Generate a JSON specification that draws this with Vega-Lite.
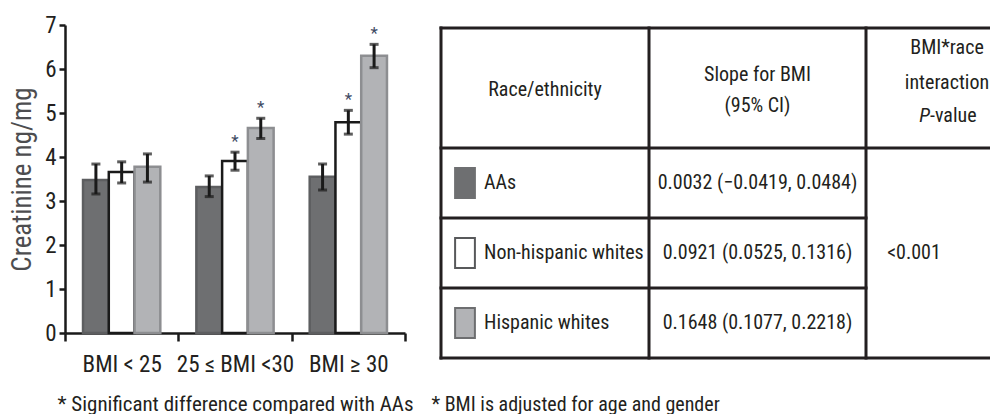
{
  "$schema": "https://vega.github.io/schema/vega-lite/v6.json",
  "background": "white",
  "padding": {"left": 8, "top": 14, "right": 0, "bottom": 0},
  "config": {
    "view": {"stroke": null},
    "font": "Roboto Condensed, Liberation Sans Narrow, Arial Narrow, sans-serif",
    "text": {"font": "Roboto Condensed, Liberation Sans Narrow, Arial Narrow, sans-serif"}
  },
  "datasets": {
    "creatinine": [
      {"bmi": "BMI < 25", "race": "AAs", "mean": 3.48, "lo": 3.16, "hi": 3.84, "sig": ""},
      {"bmi": "BMI < 25", "race": "Non-hispanic whites", "mean": 3.66, "lo": 3.41, "hi": 3.89, "sig": ""},
      {"bmi": "BMI < 25", "race": "Hispanic whites", "mean": 3.78, "lo": 3.43, "hi": 4.07, "sig": ""},
      {"bmi": "25 ≤ BMI <30", "race": "AAs", "mean": 3.32, "lo": 3.1, "hi": 3.57, "sig": ""},
      {"bmi": "25 ≤ BMI <30", "race": "Non-hispanic whites", "mean": 3.91, "lo": 3.7, "hi": 4.11, "sig": "*"},
      {"bmi": "25 ≤ BMI <30", "race": "Hispanic whites", "mean": 4.66, "lo": 4.42, "hi": 4.88, "sig": "*"},
      {"bmi": "BMI ≥ 30", "race": "AAs", "mean": 3.55, "lo": 3.25, "hi": 3.84, "sig": ""},
      {"bmi": "BMI ≥ 30", "race": "Non-hispanic whites", "mean": 4.79, "lo": 4.52, "hi": 5.06, "sig": "*"},
      {"bmi": "BMI ≥ 30", "race": "Hispanic whites", "mean": 6.3, "lo": 6.03, "hi": 6.56, "sig": "*"}
    ],
    "grid": [
      {"x1": 0, "x2": 3, "y1": 0, "y2": 0},
      {"x1": 0, "x2": 3, "y1": 1, "y2": 1},
      {"x1": 0, "x2": 2, "y1": 2, "y2": 2},
      {"x1": 0, "x2": 2, "y1": 3, "y2": 3},
      {"x1": 0, "x2": 3, "y1": 4, "y2": 4},
      {"x1": 0, "x2": 0, "y1": 0, "y2": 4},
      {"x1": 1, "x2": 1, "y1": 0, "y2": 4},
      {"x1": 2, "x2": 2, "y1": 0, "y2": 4},
      {"x1": 3, "x2": 3, "y1": 0, "y2": 4}
    ],
    "rows": [
      {"row": 1.5, "race": "AAs", "slope": "0.0032 (−0.0419, 0.0484)"},
      {"row": 2.5, "race": "Non-hispanic whites", "slope": "0.0921 (0.0525, 0.1316)"},
      {"row": 3.5, "race": "Hispanic whites", "slope": "0.1648 (0.1077, 0.2218)"}
    ]
  },
  "spacing": 17,
  "resolve": {"scale": {"fill": "independent", "stroke": "independent"}},
  "hconcat": [
    {
      "width": 340,
      "height": 308,
      "data": {"name": "creatinine"},
      "encoding": {
        "x": {
          "field": "bmi",
          "type": "nominal",
          "sort": ["BMI < 25", "25 ≤ BMI <30", "BMI ≥ 30"],
          "scale": {"paddingInner": 0, "paddingOuter": 0},
          "axis": {
            "title": "* Significant difference compared with AAs",
            "titleFontSize": 21,
            "titleFontWeight": "normal",
            "titleColor": "#231f20",
            "titlePadding": 17,
            "labelAngle": 0,
            "labelFontSize": 23,
            "labelColor": "#231f20",
            "labelPadding": 12,
            "tickBand": "extent",
            "tickSize": 8,
            "tickWidth": 2.5,
            "tickColor": "#1a1a1a",
            "domainColor": "#1a1a1a",
            "domainWidth": 2.5
          }
        },
        "xOffset": {
          "field": "race",
          "type": "nominal",
          "sort": ["AAs", "Non-hispanic whites", "Hispanic whites"],
          "scale": {"paddingInner": 0, "paddingOuter": 0.7}
        }
      },
      "layer": [
        {
          "mark": {"type": "bar", "strokeWidth": 2.5},
          "encoding": {
            "y": {
              "field": "mean",
              "type": "quantitative",
              "scale": {"domain": [0, 7], "nice": false},
              "axis": {
                "title": "Creatinine ng/mg",
                "titleFontSize": 27,
                "titleFontWeight": "normal",
                "titleColor": "#4d4d4f",
                "titlePadding": 8,
                "values": [0, 1, 2, 3, 4, 5, 6, 7],
                "grid": false,
                "labelFontSize": 23,
                "labelColor": "#231f20",
                "labelPadding": 3,
                "tickSize": 6,
                "tickWidth": 2.5,
                "tickColor": "#1a1a1a",
                "domainColor": "#1a1a1a",
                "domainWidth": 2.5
              }
            },
            "fill": {
              "field": "race",
              "type": "nominal",
              "scale": {"domain": ["AAs", "Non-hispanic whites", "Hispanic whites"], "range": ["#6e6f71", "#ffffff", "#b2b3b6"]},
              "legend": null
            },
            "stroke": {
              "field": "race",
              "type": "nominal",
              "scale": {"domain": ["AAs", "Non-hispanic whites", "Hispanic whites"], "range": ["#5d5e60", "#1a1a1a", "#8d8e91"]},
              "legend": null
            }
          }
        },
        {
          "mark": {"type": "rule", "strokeWidth": 3, "color": "#1a1a1a"},
          "encoding": {
            "y": {"field": "lo", "type": "quantitative"},
            "y2": {"field": "hi"}
          }
        },
        {
          "mark": {"type": "tick", "orient": "horizontal", "thickness": 3, "size": 9, "color": "#1a1a1a"},
          "encoding": {"y": {"field": "lo", "type": "quantitative"}}
        },
        {
          "mark": {"type": "tick", "orient": "horizontal", "thickness": 3, "size": 9, "color": "#1a1a1a"},
          "encoding": {"y": {"field": "hi", "type": "quantitative"}}
        },
        {
          "mark": {"type": "text", "fontSize": 17, "color": "#3e4a63", "baseline": "bottom", "dy": -1},
          "encoding": {
            "y": {"field": "hi", "type": "quantitative"},
            "text": {"field": "sig"}
          }
        }
      ]
    },
    {
      "width": 587,
      "height": 333,
      "layer": [
        {
          "data": {"name": "grid"},
          "mark": {"type": "rule", "strokeWidth": 3, "color": "#231f20", "strokeCap": "square"},
          "encoding": {
            "x": {
              "field": "x1",
              "type": "quantitative",
              "scale": {"domain": [0, 1, 2, 3], "range": [0, 208, 425, 587], "nice": false, "zero": false},
              "axis": {
                "title": "* BMI is adjusted for age and gender",
                "labels": false,
                "ticks": false,
                "domain": false,
                "grid": false,
                "titleAnchor": "start",
                "titleAlign": "left",
                "titleX": -10,
                "titleFontSize": 20,
                "titleFontWeight": "normal",
                "titleColor": "#231f20",
                "titlePadding": 36
              }
            },
            "x2": {"field": "x2"},
            "y": {
              "field": "y1",
              "type": "quantitative",
              "scale": {"domain": [0, 1, 4], "range": [3, 123, 333], "nice": false, "zero": false},
              "axis": null
            },
            "y2": {"field": "y2"}
          }
        },
        {
          "data": {"values": [{"col": 0.5, "row": 0.5, "lines": ["Race/ethnicity"]}]},
          "mark": {"type": "text", "fontSize": 20, "color": "#231f20", "baseline": "middle", "dy": 2},
          "encoding": {
            "x": {"field": "col", "type": "quantitative"},
            "y": {"field": "row", "type": "quantitative"},
            "text": {"field": "lines"}
          }
        },
        {
          "data": {"values": [{"col": 1.5, "row": 0.5, "lines": ["Slope for BMI", "(95% CI)"]}]},
          "mark": {"type": "text", "fontSize": 20, "color": "#231f20", "baseline": "middle", "lineHeight": 31, "dy": -13},
          "encoding": {
            "x": {"field": "col", "type": "quantitative"},
            "y": {"field": "row", "type": "quantitative"},
            "text": {"field": "lines"}
          }
        },
        {
          "data": {"values": [{"col": 2.5, "row": 0.5, "lines": ["BMI*race", "interaction"]}]},
          "mark": {"type": "text", "fontSize": 20, "color": "#231f20", "baseline": "middle", "lineHeight": 35, "dy": -40},
          "encoding": {
            "x": {"field": "col", "type": "quantitative"},
            "y": {"field": "row", "type": "quantitative"},
            "text": {"field": "lines"}
          }
        },
        {
          "data": {"values": [{"col": 2.5, "row": 0.5, "word": "P"}]},
          "mark": {"type": "text", "fontSize": 20, "fontStyle": "italic", "color": "#231f20", "baseline": "middle", "align": "right", "dx": -17, "dy": 28},
          "encoding": {
            "x": {"field": "col", "type": "quantitative"},
            "y": {"field": "row", "type": "quantitative"},
            "text": {"field": "word"}
          }
        },
        {
          "data": {"values": [{"col": 2.5, "row": 0.5, "word": "-value"}]},
          "mark": {"type": "text", "fontSize": 20, "color": "#231f20", "baseline": "middle", "align": "left", "dx": -17, "dy": 28},
          "encoding": {
            "x": {"field": "col", "type": "quantitative"},
            "y": {"field": "row", "type": "quantitative"},
            "text": {"field": "word"}
          }
        },
        {
          "data": {"name": "rows"},
          "mark": {"type": "point", "filled": true, "shape": "M-0.66,-1H0.66V1H-0.66Z", "size": 900, "strokeWidth": 2, "opacity": 1, "xOffset": 24},
          "encoding": {
            "x": {"datum": 0, "type": "quantitative"},
            "y": {"field": "row", "type": "quantitative"},
            "fill": {
              "field": "race",
              "type": "nominal",
              "scale": {"domain": ["AAs", "Non-hispanic whites", "Hispanic whites"], "range": ["#6e6f71", "#ffffff", "#b2b3b6"]},
              "legend": null
            },
            "stroke": {
              "field": "race",
              "type": "nominal",
              "scale": {"domain": ["AAs", "Non-hispanic whites", "Hispanic whites"], "range": ["#6e6f71", "#58595b", "#6d6e70"]},
              "legend": null
            }
          }
        },
        {
          "data": {"name": "rows"},
          "mark": {"type": "text", "fontSize": 20, "color": "#231f20", "baseline": "middle", "align": "left", "dx": 43},
          "encoding": {
            "x": {"datum": 0, "type": "quantitative"},
            "y": {"field": "row", "type": "quantitative"},
            "text": {"field": "race"}
          }
        },
        {
          "data": {"name": "rows"},
          "mark": {"type": "text", "fontSize": 20, "color": "#231f20", "baseline": "middle"},
          "encoding": {
            "x": {"datum": 1.5, "type": "quantitative"},
            "y": {"field": "row", "type": "quantitative"},
            "text": {"field": "slope"}
          }
        },
        {
          "data": {"values": [{"col": 2.5, "row": 2.5, "p": "<0.001"}]},
          "mark": {"type": "text", "fontSize": 20, "color": "#231f20", "baseline": "middle", "dx": -33},
          "encoding": {
            "x": {"field": "col", "type": "quantitative"},
            "y": {"field": "row", "type": "quantitative"},
            "text": {"field": "p"}
          }
        }
      ]
    }
  ]
}
